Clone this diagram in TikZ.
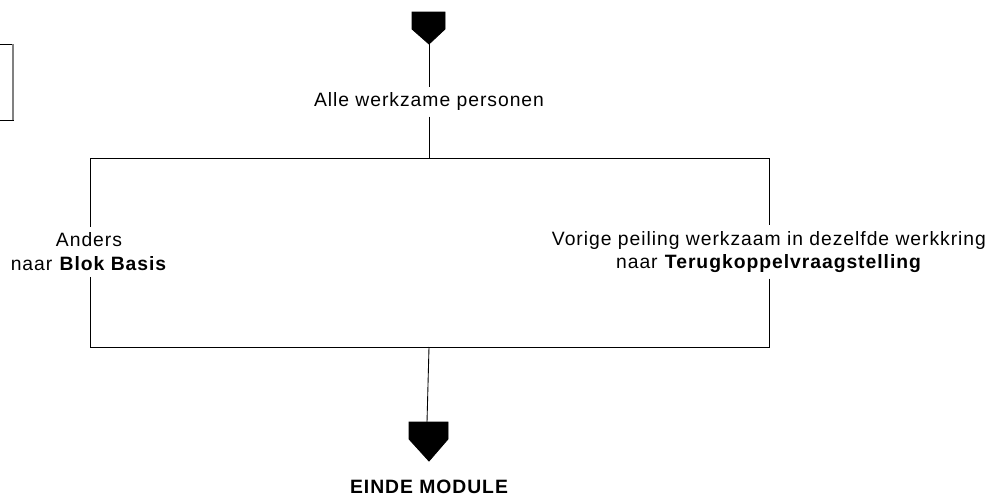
\documentclass[tikz,border=0pt]{standalone}
\usepackage{fontspec}
\setmainfont{Liberation Sans}[LetterSpace=5]
\begin{document}
\begin{tikzpicture}[x=0.02cm,y=-0.02cm,line width=0.5pt]
\tikzstyle{txt} = [text centered,align=center,font=\fontsize{11pt}{13.6pt}\selectfont,inner sep=3pt]
\tikzstyle{endblock} = [fill=black,draw=black]
	\useasboundingbox (0,0) rectangle (993,497);
	% stub of the previous box
	\draw (-5,44) rectangle (13,120);
	\draw[gray,line width=1.1pt] (13,44) -- (13,120);
	% start marker
	\draw[endblock] (412,12) -- (445,12) -- (445,29) -- (429,44) -- (412,29) -- cycle;
	\coordinate (start) at (429,44);
	\node[txt] (alle) at (429,102) {Alle werkzame personen};
	\coordinate (split) at (429,158);
	\coordinate (join) at (429,347);
	\node[txt] (anders) at (89,252) {Anders\\naar \textbf{Blok Basis}};
	\node[txt] (vorige) at (769,252) {Vorige peiling werkzaam in dezelfde werkkring\\naar \textbf{Terugkoppelvraagstelling}};
	\draw (start) -- (alle);
	\draw (alle) -- (split);
	\draw (split) -| (anders.north -| 90,0);
	\draw (split) -| (vorige.north -| 769,0);
	\draw (anders.south -| 90,0) |- (join);
	\draw (vorige.south -| 769,0) |- (join);
	% end marker
	\coordinate (stop) at (427,422);
	\draw (join) -- (stop);
	\draw[endblock] (409,422) -- (448,422) -- (448,439) -- (429,461) -- (409,439) -- cycle;
	\node[txt,font=\fontsize{11pt}{13.6pt}\selectfont\bfseries] (einde) at (429,487) {EINDE MODULE};
\end{tikzpicture}
\end{document}
